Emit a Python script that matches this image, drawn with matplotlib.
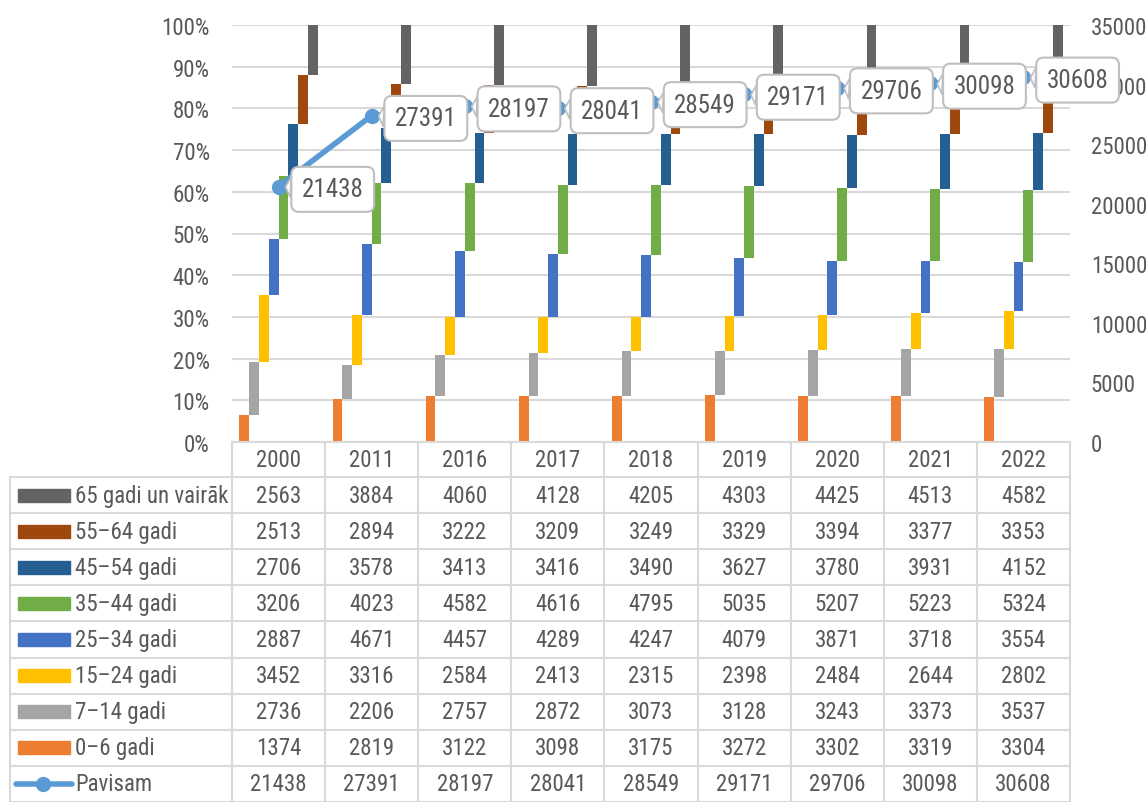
import numpy as np
import matplotlib
matplotlib.use("Agg")
import matplotlib.pyplot as plt
from matplotlib.patches import Rectangle
from matplotlib.lines import Line2D
from matplotlib.ticker import PercentFormatter

plt.rcParams['font.family'] = ['Roboto Condensed', 'Liberation Sans', 'DejaVu Sans']

years = ["2000", "2011", "2016", "2017", "2018", "2019", "2020", "2021", "2022"]

groups = ["0–6 gadi", "7–14 gadi", "15–24 gadi", "25–34 gadi",
          "35–44 gadi", "45–54 gadi", "55–64 gadi", "65 gadi un vairāk"]

g0_6 = [1374, 2819, 3122, 3098, 3175, 3272, 3302, 3319, 3304]
g7_14 = [2736, 2206, 2757, 2872, 3073, 3128, 3243, 3373, 3537]
g15_24 = [3452, 3316, 2584, 2413, 2315, 2398, 2484, 2644, 2802]
g25_34 = [2887, 4671, 4457, 4289, 4247, 4079, 3871, 3718, 3554]
g35_44 = [3206, 4023, 4582, 4616, 4795, 5035, 5207, 5223, 5324]
g45_54 = [2706, 3578, 3413, 3416, 3490, 3627, 3780, 3931, 4152]
g55_64 = [2513, 2894, 3222, 3209, 3249, 3329, 3394, 3377, 3353]
g65 = [2563, 3884, 4060, 4128, 4205, 4303, 4425, 4513, 4582]

pavisam = [21438, 27391, 28197, 28041, 28549, 29171, 29706, 30098, 30608]

colors = ["#ED7D31", "#A5A5A5", "#FFC000", "#4472C4",
          "#70AD47", "#255E91", "#9E480E", "#636363"]
line_color = "#5B9BD5"
text_color = "#595959"
grid_color = "#D9D9D9"
fs = 16.5

series = np.array([g0_6, g7_14, g15_24, g25_34, g35_44, g45_54, g55_64, g65], dtype=float)
totals = series.sum(axis=0)
shares = series / totals * 100
bottoms = np.vstack([np.zeros(len(years)), np.cumsum(shares, axis=0)[:-1]])

W, H = 1146, 803
fig = plt.figure(figsize=(W / 100, H / 100), dpi=100)

px0, px1, py_top, py_bot = 232, 1070, 26, 443
ax = fig.add_axes([px0 / W, (H - py_bot) / H, (px1 - px0) / W, (py_bot - py_top) / H])

x = np.arange(len(years))
w = 0.105
for j in range(len(groups)):
    ax.bar(x + (j - 3.5) * w, shares[j], w, bottom=bottoms[j], color=colors[j], zorder=2)

ax.set_xlim(-0.5, len(years) - 0.5)
ax.set_ylim(0, 100)
ax.set_yticks(np.arange(0, 101, 10))
ax.yaxis.set_major_formatter(PercentFormatter(decimals=0))
ax.grid(axis="y", color=grid_color, linewidth=1.5, zorder=0)
ax.set_xticks([])
for s in ax.spines.values():
    s.set_visible(False)
ax.tick_params(axis="y", length=0, pad=16, labelsize=fs, labelcolor=text_color)

ax2 = ax.twinx()
ax2.plot(x, pavisam, color=line_color, linewidth=4, marker="o", markersize=10, zorder=3)
ax2.set_ylim(0, 35000)
ax2.set_yticks(np.arange(0, 35001, 5000))
for s in ax2.spines.values():
    s.set_visible(False)
ax2.tick_params(axis="y", length=0, pad=15, labelsize=fs, labelcolor=text_color)

for i, v in enumerate(pavisam):
    ax2.annotate(str(v), (x[i], v), xytext=(39, -2), textcoords="offset points",
                 ha="center", va="center", fontsize=fs + 1.5, color=text_color, zorder=5,
                 bbox=dict(boxstyle="round,pad=0.42,rounding_size=0.3", fc="white",
                           ec="#BFBFBF", lw=1.5),
                 arrowprops=dict(arrowstyle="wedge,tail_width=0.8,shrink_factor=0.5",
                                 fc="white", ec="#BFBFBF", lw=1.2, shrinkA=0, shrinkB=5))

# data table below the chart, in pixel coordinates
tab = fig.add_axes([0, 0, 1, 1])
tab.set_xlim(0, W)
tab.set_ylim(H, 0)
tab.axis("off")
tab.patch.set_visible(False)

cw = (px1 - px0) / len(years)
rh = 36.1
lx0 = 10
head_top = py_bot
row_top = head_top + 35

rows = [(groups[7], g65), (groups[6], g55_64), (groups[5], g45_54), (groups[4], g35_44),
        (groups[3], g25_34), (groups[2], g15_24), (groups[1], g7_14), (groups[0], g0_6),
        ("Pavisam", pavisam)]
row_colors = [colors[7], colors[6], colors[5], colors[4], colors[3],
              colors[2], colors[1], colors[0], None]

n_rows = len(rows)
bottom = row_top + rh * n_rows
lk = dict(color=grid_color, linewidth=1.5)

tab.add_line(Line2D([px0, px1], [head_top, head_top], **lk))
for k in range(len(years) + 1):
    tab.add_line(Line2D([px0 + k * cw] * 2, [head_top, bottom], **lk))
tab.add_line(Line2D([lx0, lx0], [row_top, bottom], **lk))
for r in range(n_rows + 1):
    tab.add_line(Line2D([lx0, px1], [row_top + r * rh] * 2, **lk))

for k, yr in enumerate(years):
    tab.text(px0 + (k + 0.5) * cw, (head_top + row_top) / 2, yr, ha="center", va="center",
             fontsize=fs, color=text_color)

for r, (name, vals) in enumerate(rows):
    yc = row_top + (r + 0.5) * rh
    if row_colors[r] is not None:
        tab.add_patch(Rectangle((18, yc - 6.5), 52, 13, color=row_colors[r]))
    else:
        tab.add_line(Line2D([16, 72], [yc, yc], color=line_color, linewidth=4,
                            solid_capstyle="round"))
        tab.plot([43], [yc], marker="o", markersize=10, color=line_color)
    tab.text(75, yc, name, ha="left", va="center", fontsize=fs, color=text_color)
    for k, v in enumerate(vals):
        tab.text(px0 + (k + 0.5) * cw, yc, str(v), ha="center", va="center",
                 fontsize=fs, color=text_color)

fig.savefig("out.png", dpi=100)
